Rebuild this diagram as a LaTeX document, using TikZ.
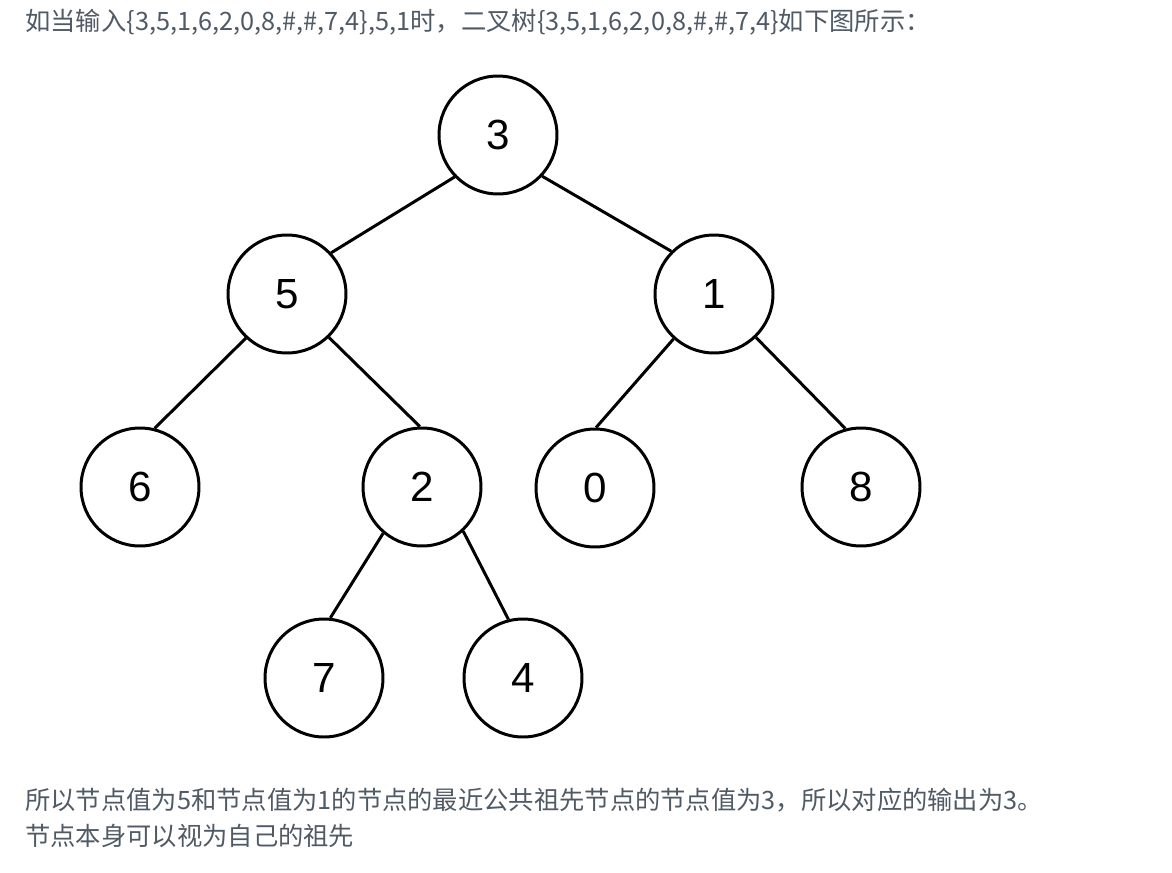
\documentclass[tikz,border=0pt]{standalone}
\usepackage{fontspec}
\setmainfont{Liberation Sans}
\newfontfamily\cjk{Noto Sans CJK SC}
\usepackage{tikz}
\definecolor{txtgray}{HTML}{4F5A65}

\begin{document}
\begin{tikzpicture}[x=0.02cm,y=-0.02cm,
  tnode/.style={draw,circle,line width=1.7pt,minimum size=2.36cm,inner sep=0pt,
    font=\fontsize{24}{28}\selectfont},
  tline/.style={line width=1.7pt},
  para/.style={anchor=west,inner sep=0pt,text=txtgray,
    font=\cjk\fontsize{14.4}{17}\selectfont}]
\useasboundingbox (0,0) rectangle (1172,872);
\node[para] (top) at (25,22) {如当输入\{3,5,1,6,2,0,8,\#,\#,7,4\},5,1时，二叉树\{3,5,1,6,2,0,8,\#,\#,7,4\}如下图所示：};
\node[tnode] (n3) at (498,135) {3};
\node[tnode] (n5) at (287,294) {5};
\node[tnode] (n1) at (714,294) {1};
\node[tnode] (n6) at (140,487) {6};
\node[tnode] (n2) at (422,487) {2};
\node[tnode] (n0) at (595,488) {0};
\node[tnode] (n8) at (861,487) {8};
\node[tnode] (n7) at (324,678) {7};
\node[tnode] (n4) at (523,678) {4};
\draw[tline] (n3.224) -- (n5.43);
\draw[tline] (n3.-43) -- (n1.135);
\draw[tline] (n5.227) -- (n6.76);
\draw[tline] (n5.-46) -- (n2.92);
\draw[tline] (n1.228) -- (n0.89);
\draw[tline] (n1.-46) -- (n8.105);
\draw[tline] (n2.230) -- (n7.84);
\draw[tline] (n2.-47) -- (n4.104);
\node[para] (res) at (25,800) {所以节点值为5和节点值为1的节点的最近公共祖先节点的节点值为3，所以对应的输出为3。};
\node[para] (note) at (25,836) {节点本身可以视为自己的祖先};
\end{tikzpicture}
\end{document}
